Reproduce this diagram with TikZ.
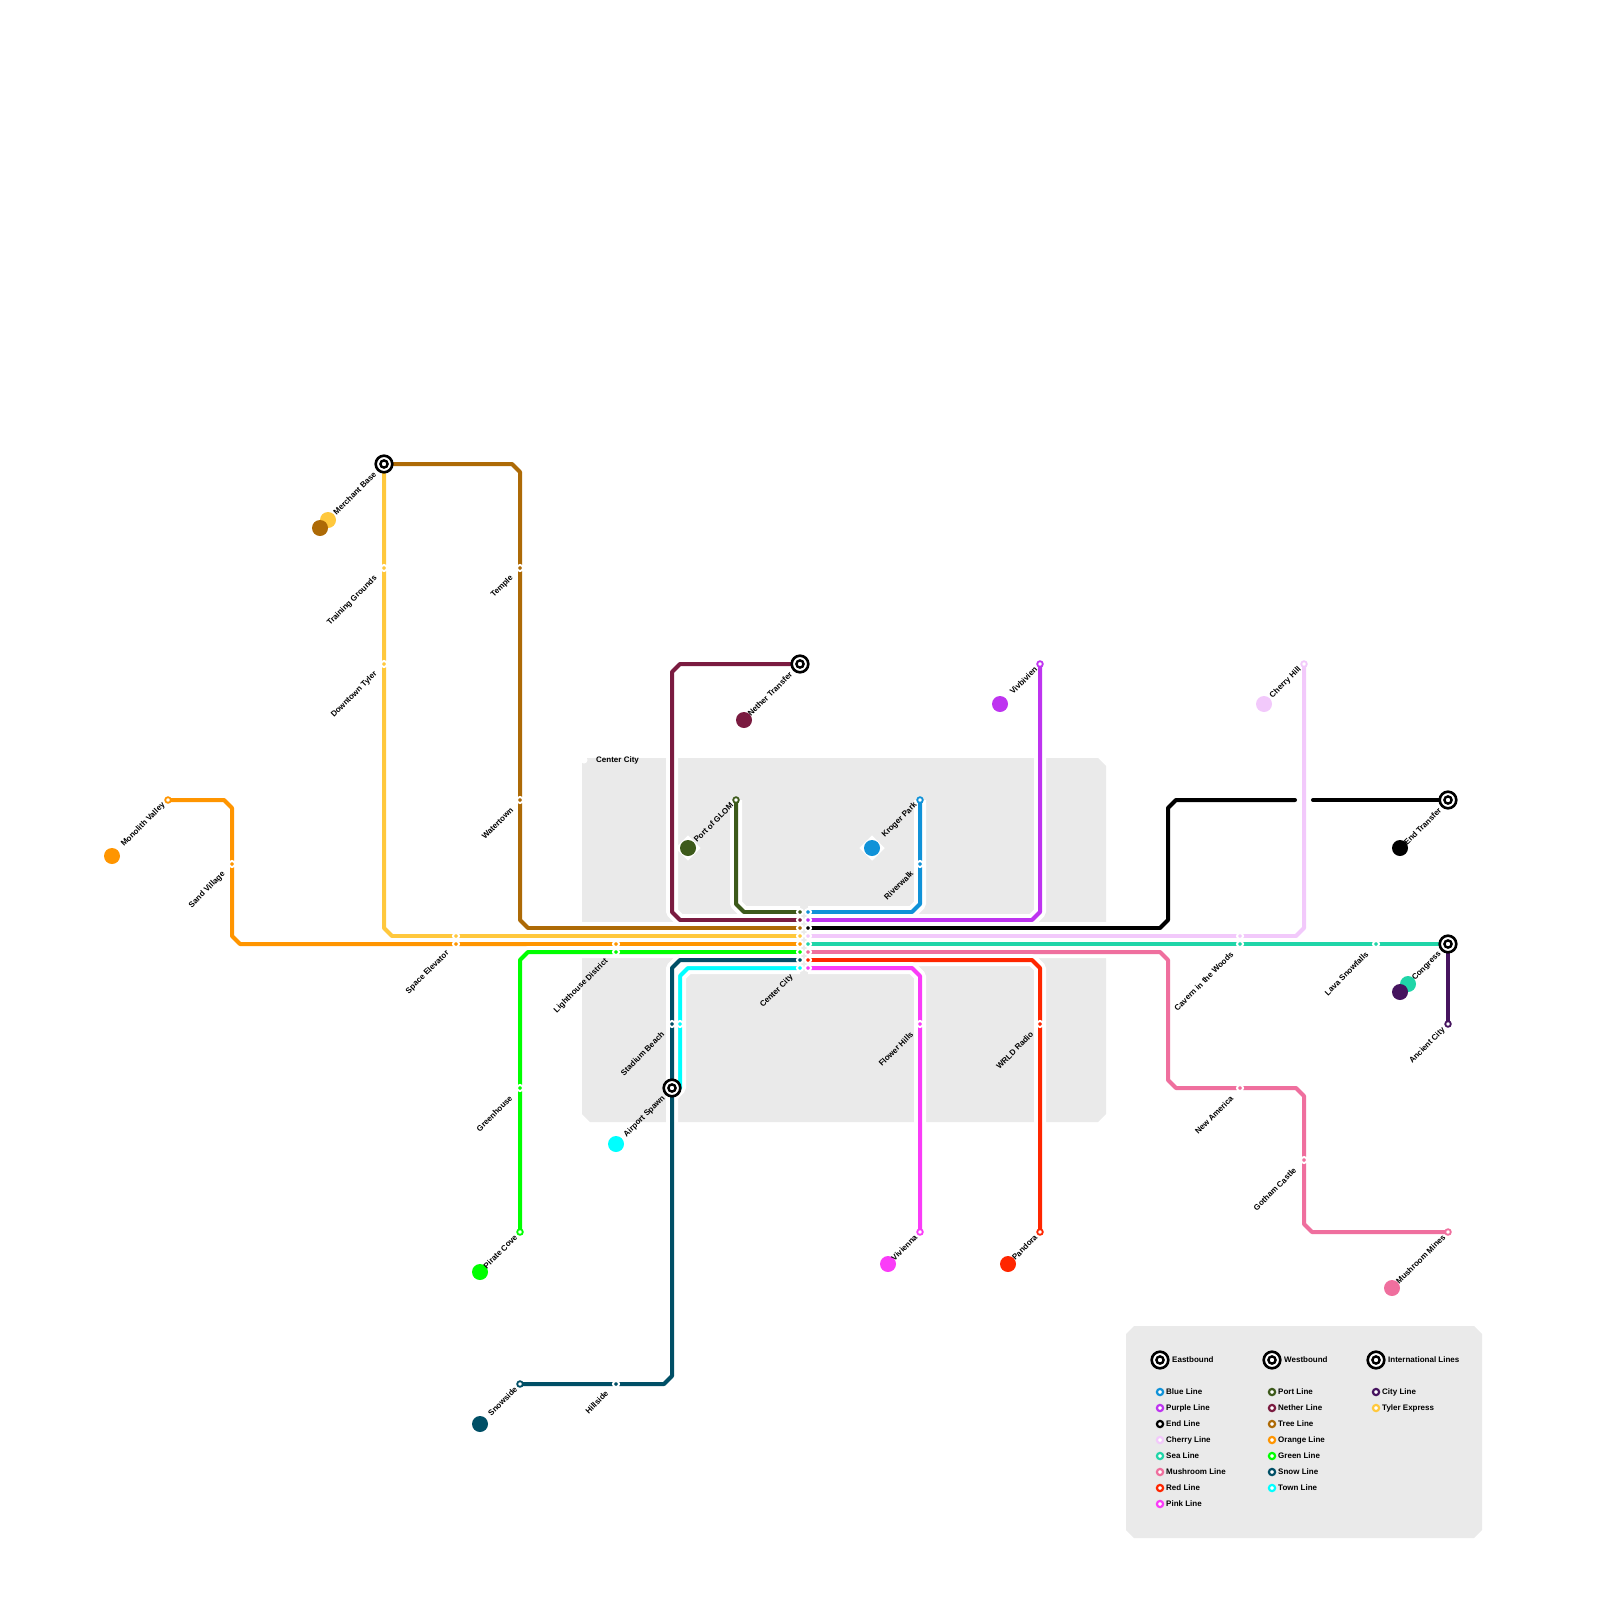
\documentclass[tikz,border=0pt]{standalone}
\usepackage{fontspec}
\setmainfont{Liberation Sans}
\usepackage{xcolor}
\usepackage{tikz}
\pgfdeclarelayer{lines}
\pgfsetlayers{lines,main}
\definecolor{clrBlue}{RGB}{16,146,216}
\definecolor{clrPurple}{RGB}{190,52,240}
\definecolor{clrEnd}{RGB}{0,0,0}
\definecolor{clrCherry}{RGB}{242,201,251}
\definecolor{clrSea}{RGB}{32,213,168}
\definecolor{clrMushroom}{RGB}{239,111,158}
\definecolor{clrRed}{RGB}{255,38,0}
\definecolor{clrPink}{RGB}{250,60,248}
\definecolor{clrPort}{RGB}{61,90,27}
\definecolor{clrNether}{RGB}{122,27,64}
\definecolor{clrTree}{RGB}{173,106,6}
\definecolor{clrOrange}{RGB}{255,149,0}
\definecolor{clrGreen}{RGB}{0,255,0}
\definecolor{clrSnow}{RGB}{0,79,102}
\definecolor{clrTown}{RGB}{0,255,255}
\definecolor{clrCity}{RGB}{70,20,95}
\definecolor{clrTyler}{RGB}{255,200,61}
\definecolor{bgPanel}{RGB}{234,234,234}
\tikzset{
  metro/.style={draw=#1,line width=4pt,line cap=round,line join=round,
    preaction={draw=white,line width=12pt,line cap=square,line join=round}},
  stop/.style={circle,fill=#1,draw=white,line width=2pt,minimum size=6pt,inner sep=0pt},
  terminal/.style={circle,fill=white,draw=#1,line width=1.8pt,minimum size=5.6pt,inner sep=0pt},
  keystop/.style={circle,fill=white,draw=#1,line width=2.2pt,minimum size=6.2pt,inner sep=0pt},
  hub/.style={circle,fill=white,draw=black,line width=2.6pt,minimum size=16.6pt,inner sep=0pt,
    path picture={\draw[black,line width=2.4pt] (path picture bounding box.center) circle (3.6pt);}},
  bigdot/.style={circle,fill=#1,minimum size=16pt,inner sep=0pt},
  halo/.style={rectangle,rotate=45,fill=white,minimum size=18pt,inner sep=0pt},
  tag/.style={font=\fontsize{8}{9}\selectfont\bfseries,inner sep=0pt,rotate=45,anchor=east},
  keytag/.style={font=\fontsize{8}{9}\selectfont\bfseries,inner sep=0pt,anchor=west}
}
\begin{document}
\begin{tikzpicture}[x=1pt,y=-1pt]
  \useasboundingbox (0,0) rectangle (1600,1600);
  % halos under the two dots on the panel
  \node[halo] (portHalo) at (688,848) {};
  \node[halo] (krogerHalo) at (872,848) {};
  % hubs
  \node[hub] (merchant) at (384,464) {};
  \node[hub] (netherTransfer) at (800,664) {};
  \node[hub] (endTransfer) at (1448,800) {};
  \node[hub] (congress) at (1448,944) {};
  \node[hub] (airport) at (672,1088) {};
  % line ends
  \node[terminal=clrOrange] (monolith) at (168,800) {};
  \node[terminal=clrPort] (portGlom) at (736,800) {};
  \node[terminal=clrBlue] (kroger) at (920,800) {};
  \node[terminal=clrPurple] (vivbivien) at (1040,664) {};
  \node[terminal=clrCherry] (cherryHill) at (1304,664) {};
  \node[terminal=clrCity] (ancient) at (1448,1024) {};
  \node[terminal=clrGreen] (pirate) at (520,1232) {};
  \node[terminal=clrSnow] (snowside) at (520,1384) {};
  \node[terminal=clrPink] (vivienna) at (920,1232) {};
  \node[terminal=clrRed] (pandora) at (1040,1232) {};
  \node[terminal=clrMushroom] (mines) at (1448,1232) {};
  % stops along the lines
  \node[stop=clrTyler] (training) at (384,568) {};
  \node[stop=clrTyler] (downtown) at (384,664) {};
  \node[stop=clrTree] (temple) at (520,568) {};
  \node[stop=clrTree] (watertown) at (520,800) {};
  \node[stop=clrOrange] (sandVillage) at (232,864) {};
  \node[stop=clrTyler] (spaceTyler) at (456,936) {};
  \node[stop=clrOrange] (spaceOrange) at (456,944) {};
  \node[stop=clrOrange] (lightOrange) at (616,944) {};
  \node[stop=clrGreen] (lightGreen) at (616,952) {};
  \node[stop=clrSnow] (stadiumSnow) at (672,1024) {};
  \node[stop=clrTown] (stadiumTown) at (680,1024) {};
  \node[stop=clrGreen] (greenhouse) at (520,1088) {};
  \node[stop=clrSnow] (hillside) at (616,1384) {};
  \node[stop=clrBlue] (riverwalk) at (920,864) {};
  \node[stop=clrPink] (flowerHills) at (920,1024) {};
  \node[stop=clrRed] (wrld) at (1040,1024) {};
  \node[stop=clrCherry] (cavernCherry) at (1240,936) {};
  \node[stop=clrSea] (cavernSea) at (1240,944) {};
  \node[stop=clrSea] (lava) at (1376,944) {};
  \node[stop=clrMushroom] (newAmerica) at (1240,1088) {};
  \node[stop=clrMushroom] (gotham) at (1304,1160) {};
  % center city, west side then east side
  \node[stop=clrPort] (ccPort) at (800,912) {};
  \node[stop=clrNether] (ccNether) at (800,920) {};
  \node[stop=clrTree] (ccTree) at (800,928) {};
  \node[stop=clrTyler] (ccTyler) at (800,936) {};
  \node[stop=clrOrange] (ccOrange) at (800,944) {};
  \node[stop=clrGreen] (ccGreen) at (800,952) {};
  \node[stop=clrSnow] (ccSnow) at (800,960) {};
  \node[stop=clrTown] (ccTown) at (800,968) {};
  \node[stop=clrBlue] (ccBlue) at (808,912) {};
  \node[stop=clrPurple] (ccPurple) at (808,920) {};
  \node[stop=clrEnd] (ccEnd) at (808,928) {};
  \node[stop=clrCherry] (ccCherry) at (808,936) {};
  \node[stop=clrSea] (ccSea) at (808,944) {};
  \node[stop=clrMushroom] (ccMushroom) at (808,952) {};
  \node[stop=clrRed] (ccRed) at (808,960) {};
  \node[stop=clrPink] (ccPink) at (808,968) {};
  \node[circle,fill=white,minimum size=7pt,inner sep=0pt] (panelDot) at (584,760) {};
  % big dots
  \node[bigdot=clrOrange] (monolithDot) at (112,856) {};
  \node[bigdot=clrTyler] (merchantDotA) at (328,520) {};
  \node[bigdot=clrTree] (merchantDotB) at (320,528) {};
  \node[bigdot=clrNether] (netherDot) at (744,720) {};
  \node[bigdot=clrPort] (portDot) at (688,848) {};
  \node[bigdot=clrBlue] (krogerDot) at (872,848) {};
  \node[bigdot=clrPurple] (vivbivienDot) at (1000,704) {};
  \node[bigdot=clrCherry] (cherryDot) at (1264,704) {};
  \node[bigdot=clrEnd] (endDot) at (1400,848) {};
  \node[bigdot=clrSea] (congressDotA) at (1408,984) {};
  \node[bigdot=clrCity] (congressDotB) at (1400,992) {};
  \node[bigdot=clrTown] (airportDot) at (616,1144) {};
  \node[bigdot=clrGreen] (pirateDot) at (480,1272) {};
  \node[bigdot=clrPink] (viviennaDot) at (888,1264) {};
  \node[bigdot=clrRed] (pandoraDot) at (1008,1264) {};
  \node[bigdot=clrMushroom] (minesDot) at (1392,1288) {};
  \node[bigdot=clrSnow] (snowsideDot) at (480,1424) {};
  % station names
  \node[keytag] (panelTag) at (596,760) {Center City};
  \node[tag] (monolithTag) at (164,804) {Monolith Valley};
  \node[tag] (merchantTag) at (375,473) {Merchant Base};
  \node[tag] (trainingTag) at (376,577) {Training Grounds};
  \node[tag] (downtownTag) at (376,673) {Downtown Tyler};
  \node[tag] (templeTag) at (512,577) {Temple};
  \node[tag] (watertownTag) at (512,809) {Watertown};
  \node[tag] (sandTag) at (224,873) {Sand Village};
  \node[tag] (spaceTag) at (448,952) {Space Elevator};
  \node[tag] (lightTag) at (607,960) {Lighthouse District};
  \node[tag] (centerTag) at (792,976) {Center City};
  \node[tag] (stadiumTag) at (663,1033) {Stadium Beach};
  \node[tag] (airportTag) at (664,1097) {Airport Spawn};
  \node[tag] (greenhouseTag) at (511,1097) {Greenhouse};
  \node[tag] (pirateTag) at (516,1236) {Pirate Cove};
  \node[tag] (snowsideTag) at (516,1388) {Snowside};
  \node[tag] (hillsideTag) at (607,1392) {Hillside};
  \node[tag] (netherTag) at (791,673) {Nether Transfer};
  \node[tag] (portTag) at (732,804) {Port of GLOM};
  \node[tag] (krogerTag) at (916,804) {Kroger Park};
  \node[tag] (riverwalkTag) at (912,872) {Riverwalk};
  \node[tag] (flowerTag) at (912,1033) {Flower Hills};
  \node[tag] (wrldTag) at (1032,1033) {WRLD Radio};
  \node[tag] (vivbivienTag) at (1036,668) {Vivbivien};
  \node[tag] (viviennaTag) at (916,1236) {Vivienna};
  \node[tag] (pandoraTag) at (1036,1236) {Pandora};
  \node[tag] (cherryTag) at (1300,668) {Cherry Hill};
  \node[tag] (cavernTag) at (1232,953) {Cavern in the Woods};
  \node[tag] (americaTag) at (1232,1097) {New America};
  \node[tag] (gothamTag) at (1295,1169) {Gotham Castle};
  \node[tag] (lavaTag) at (1367,953) {Lava Snowfalls};
  \node[tag] (congressTag) at (1440,953) {Congress};
  \node[tag] (endTag) at (1440,809) {End Transfer};
  \node[tag] (ancientTag) at (1444,1029) {Ancient City};
  \node[tag] (minesTag) at (1444,1236) {Mushroom Mines};
  % legend
  \node[hub] (keyEast) at (1160,1360) {};
  \node[hub] (keyWest) at (1272,1360) {};
  \node[hub] (keyIntl) at (1376,1360) {};
  \node[keytag] (keyEastTag) at (1172,1360) {Eastbound};
  \node[keytag] (keyWestTag) at (1284,1360) {Westbound};
  \node[keytag] (keyIntlTag) at (1388,1360) {International Lines};
  \node[keystop=clrBlue] (keyBlue) at (1160,1392) {};
  \node[keystop=clrPurple] (keyPurple) at (1160,1408) {};
  \node[keystop=clrEnd] (keyEnd) at (1160,1424) {};
  \node[keystop=clrCherry] (keyCherry) at (1160,1440) {};
  \node[keystop=clrSea] (keySea) at (1160,1456) {};
  \node[keystop=clrMushroom] (keyMushroom) at (1160,1472) {};
  \node[keystop=clrRed] (keyRed) at (1160,1488) {};
  \node[keystop=clrPink] (keyPink) at (1160,1504) {};
  \node[keystop=clrPort] (keyPort) at (1272,1392) {};
  \node[keystop=clrNether] (keyNether) at (1272,1408) {};
  \node[keystop=clrTree] (keyTree) at (1272,1424) {};
  \node[keystop=clrOrange] (keyOrange) at (1272,1440) {};
  \node[keystop=clrGreen] (keyGreen) at (1272,1456) {};
  \node[keystop=clrSnow] (keySnow) at (1272,1472) {};
  \node[keystop=clrTown] (keyTown) at (1272,1488) {};
  \node[keystop=clrCity] (keyCity) at (1376,1392) {};
  \node[keystop=clrTyler] (keyTyler) at (1376,1408) {};
  \node[keytag] (keyBlueTag) at (1166,1392) {Blue Line};
  \node[keytag] (keyPurpleTag) at (1166,1408) {Purple Line};
  \node[keytag] (keyEndTag) at (1166,1424) {End Line};
  \node[keytag] (keyCherryTag) at (1166,1440) {Cherry Line};
  \node[keytag] (keySeaTag) at (1166,1456) {Sea Line};
  \node[keytag] (keyMushroomTag) at (1166,1472) {Mushroom Line};
  \node[keytag] (keyRedTag) at (1166,1488) {Red Line};
  \node[keytag] (keyPinkTag) at (1166,1504) {Pink Line};
  \node[keytag] (keyPortTag) at (1278,1392) {Port Line};
  \node[keytag] (keyNetherTag) at (1278,1408) {Nether Line};
  \node[keytag] (keyTreeTag) at (1278,1424) {Tree Line};
  \node[keytag] (keyOrangeTag) at (1278,1440) {Orange Line};
  \node[keytag] (keyGreenTag) at (1278,1456) {Green Line};
  \node[keytag] (keySnowTag) at (1278,1472) {Snow Line};
  \node[keytag] (keyTownTag) at (1278,1488) {Town Line};
  \node[keytag] (keyCityTag) at (1382,1392) {City Line};
  \node[keytag] (keyTylerTag) at (1382,1408) {Tyler Express};
  \begin{pgfonlayer}{lines}
    % panels
    \fill[bgPanel] (582,758) -- (1098,758) -- (1106,766) -- (1106,1114) -- (1098,1122)
      -- (590,1122) -- (582,1114) -- cycle;
    \fill[bgPanel] (1134,1326) -- (1474,1326) -- (1482,1334) -- (1482,1530) -- (1474,1538)
      -- (1134,1538) -- (1126,1530) -- (1126,1334) -- cycle;
    % westbound
    \draw[metro=clrPort] (portGlom.center) -- (736,904) -- (744,912) -- (ccPort.center);
    \draw[metro=clrNether] (netherTransfer.center) -- (680,664) -- (672,672) -- (672,912)
      -- (680,920) -- (ccNether.center);
    \draw[metro=clrTree] (merchant.center) -- (512,464) -- (520,472) -- (temple.center)
      -- (watertown.center) -- (520,920) -- (528,928) -- (ccTree.center);
    \draw[metro=clrTyler] (merchant.center) -- (training.center) -- (downtown.center)
      -- (384,928) -- (392,936) -- (spaceTyler.center) -- (ccTyler.center);
    \draw[metro=clrOrange] (monolith.center) -- (224,800) -- (232,808) -- (sandVillage.center)
      -- (232,936) -- (240,944) -- (spaceOrange.center) -- (lightOrange.center) -- (ccOrange.center);
    \draw[metro=clrGreen] (pirate.center) -- (greenhouse.center) -- (520,960) -- (528,952)
      -- (lightGreen.center) -- (ccGreen.center);
    \draw[metro=clrTown] (airport.center) -- (672,1096) -- (680,1088) -- (stadiumTown.center)
      -- (680,976) -- (688,968) -- (ccTown.center);
    \draw[metro=clrSnow] (snowside.center) -- (hillside.center) -- (664,1384) -- (672,1376)
      -- (stadiumSnow.center) -- (672,968) -- (680,960) -- (ccSnow.center);
    % eastbound
    \draw[metro=clrBlue] (ccBlue.center) -- (912,912) -- (920,904) -- (riverwalk.center)
      -- (kroger.center);
    \draw[metro=clrPurple] (ccPurple.center) -- (1032,920) -- (1040,912) -- (vivbivien.center);
    \draw[metro=clrEnd] (ccEnd.center) -- (1160,928) -- (1168,920) -- (1168,808) -- (1176,800)
      -- (1295,800);
    \draw[metro=clrEnd] (1313,800) -- (endTransfer.center);
    \draw[metro=clrCherry] (ccCherry.center) -- (cavernCherry.center) -- (1296,936) -- (1304,928)
      -- (cherryHill.center);
    \draw[metro=clrSea] (ccSea.center) -- (cavernSea.center) -- (lava.center) -- (congress.center);
    \draw[metro=clrMushroom] (ccMushroom.center) -- (1160,952) -- (1168,960) -- (1168,1080)
      -- (1176,1088) -- (newAmerica.center) -- (1296,1088) -- (1304,1096) -- (gotham.center)
      -- (1304,1224) -- (1312,1232) -- (mines.center);
    \draw[metro=clrRed] (ccRed.center) -- (1032,960) -- (1040,968) -- (wrld.center)
      -- (pandora.center);
    \draw[metro=clrPink] (ccPink.center) -- (912,968) -- (920,976) -- (flowerHills.center)
      -- (vivienna.center);
    % international
    \draw[metro=clrCity] (congress.center) -- (ancient.center);
  \end{pgfonlayer}
\end{tikzpicture}
\end{document}
